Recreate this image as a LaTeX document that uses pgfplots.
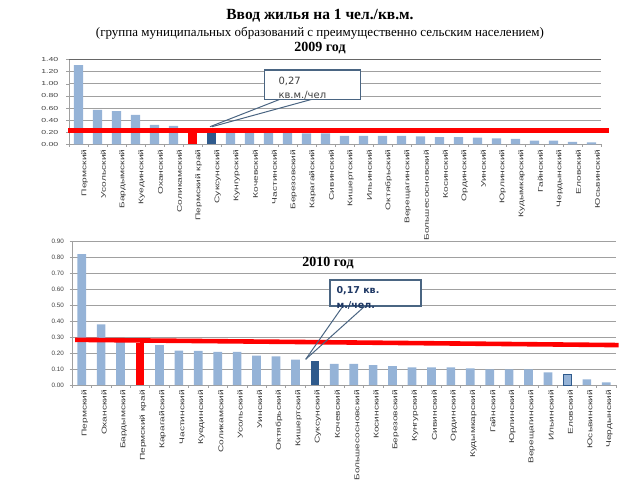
\documentclass[border=0pt]{standalone}
\usepackage{pgfplots}
\pgfplotsset{compat=1.18}
\usepackage{fontspec}
\setmainfont{Liberation Serif}
\setsansfont{Liberation Sans}
\newfontfamily\dvs{DejaVu Sans}
\definecolor{barblue}{HTML}{95B3D7}
\definecolor{darkbar}{HTML}{2F5A8C}
\definecolor{gridg}{HTML}{A0A0A0}
\definecolor{boxc}{HTML}{4A6582}
\definecolor{navy}{HTML}{1F3864}
\begin{document}
\begin{tikzpicture}[x=1pt,y=1pt]
\path[use as bounding box] (0,0) rectangle (640,480);
% titles
\node[font=\rmfamily\bfseries\fontsize{15.5}{17}\selectfont] at (320,464.5) {Ввод жилья на 1 чел./кв.м.};
\node[font=\rmfamily\fontsize{13}{15}\selectfont] at (320,447) {(группа муниципальных образований с преимущественно сельским населением)};
\node[font=\rmfamily\bfseries\fontsize{14}{16}\selectfont] at (320,431.5) {2009 год};

% ---------- 2009 ----------
\begin{axis}[at={(69pt,335.7pt)}, anchor=south west, scale only axis,
  width=532pt, height=84.6pt,
  xmin=-0.5, xmax=27.5, ymin=0, ymax=1.4,
  clip=false,
  axis x line*=bottom, axis y line*=left,
  axis line style={gridg, line width=0.8pt},
  ytick={0,0.2,...,1.41},
  ymajorgrids, grid style={gridg, line width=0.8pt},
  yticklabel style={font=\sffamily\fontsize{5.8}{6}\selectfont, text=black!75, xscale=1.5, xshift=-2pt},
  /pgf/number format/.cd, fixed, fixed zerofill, precision=2, assume math mode=true, /pgfplots/.cd,
  tick align=outside, major tick length=2.5pt,
  tick style={gridg, line width=0.6pt},
  xtick={-0.5,0.5,...,27.6}, xticklabels={},
  extra x ticks={0,...,27},
  extra x tick style={major tick length=0pt, grid=none},
  extra x tick labels={Пермский,Усольский,Бардымский,Куединский,Оханский,Соликамский,Пермский край,Суксунский,Кунгурский,Кочевский,Частинский,Березовский,Карагайский,Сивинский,Кишертский,Ильинский,Октябрьский,Верещагинский,Большесосновский,Косинский,Ординский,Уинский,Юрлинский,Кудымкарский,Гайнский,Чердынский,Еловский,Юсьвинский},
  extra x tick style={xticklabel style={rotate=90, xscale=1.5, anchor=east, font=\sffamily\fontsize{6.8}{7}\selectfont, text=black!78, yshift=-6pt}},
]
\draw[black!60, line width=0.8pt] (axis cs:-0.5,1.4) -- (axis cs:27.5,1.4);
\addplot[ybar, bar width=9.3pt, bar shift=0pt, fill=barblue, draw=none] coordinates {
(0,1.31) (1,0.57) (2,0.55) (3,0.485) (4,0.32) (5,0.305)
(8,0.19) (9,0.19) (10,0.19) (11,0.19) (12,0.18) (13,0.18) (14,0.14) (15,0.14)
(16,0.14) (17,0.14) (18,0.13) (19,0.12) (20,0.12) (21,0.11) (22,0.10) (23,0.09)
(24,0.06) (25,0.06) (26,0.04) (27,0.03)};
\addplot[ybar, bar width=9.3pt, bar shift=0pt, fill=red, draw=none] coordinates {(6,0.24)};
\addplot[ybar, bar width=9.3pt, bar shift=0pt, fill=darkbar, draw=none] coordinates {(7,0.19)};
\addplot[red, line width=4.4pt, no marks] coordinates {(-0.55,0.228) (27.93,0.228)};
\end{axis}
% callout 2009
\draw[boxc, line width=1pt] (210,353.3) -- (280,380.7);
\draw[boxc, line width=1pt] (212,353.3) -- (312,380.7);
\draw[boxc, line width=1.2pt, fill=white] (264.3,380.7) rectangle (360.7,410);
\node[anchor=west, font=\dvs\fontsize{10}{11}\selectfont, text=black!75] at (275,398.5) {0,27};
\node[anchor=west, font=\dvs\fontsize{10}{11}\selectfont, text=black!75] at (275,384.5) {кв.м./чел};

% ---------- 2010 ----------
\begin{axis}[at={(72pt,95pt)}, anchor=south west, scale only axis,
  width=544pt, height=143.7pt,
  xmin=-0.5, xmax=27.5, ymin=0, ymax=0.9,
  clip=false,
  axis x line*=bottom, axis y line*=left,
  axis line style={gridg, line width=0.8pt},
  ytick={0,0.1,...,0.91},
  ymajorgrids, grid style={gridg, line width=0.9pt},
  yticklabel style={font=\sffamily\fontsize{6.3}{7}\selectfont, text=black!75, xshift=-2pt},
  /pgf/number format/.cd, fixed, fixed zerofill, precision=2, assume math mode=true, /pgfplots/.cd,
  tick align=outside, major tick length=2.5pt,
  tick style={gridg, line width=0.6pt},
  xtick={-0.5,0.5,...,27.6}, xticklabels={},
  extra x ticks={0,...,27},
  extra x tick style={major tick length=0pt, grid=none},
  extra x tick labels={Пермский,Оханский,Бардымский,Пермский край,Карагайский,Частинский,Куединский,Соликамский,Усольский,Уинский,Октябрьский,Кишертский,Суксунский,Кочевский,Большесосновский,Косинский,Березовский,Кунгурский,Сивинский,Ординский,Кудымкарский,Гайнский,Юрлинский,Верещагинский,Ильинский,Еловский,Юсьвинский,Чердынский},
  extra x tick style={xticklabel style={rotate=90, xscale=1.45, anchor=east, font=\sffamily\fontsize{7}{8}\selectfont, text=black!78, yshift=-3pt}},
]
\addplot[ybar, bar width=8.7pt, bar shift=0pt, fill=barblue, draw=none] coordinates {
(0,0.82) (1,0.38) (2,0.29) (4,0.25) (5,0.215) (6,0.213) (7,0.207) (8,0.207)
(9,0.184) (10,0.18) (11,0.159) (13,0.132) (14,0.132) (15,0.125) (16,0.119)
(17,0.111) (18,0.111) (19,0.111) (20,0.104) (21,0.098) (22,0.098) (23,0.098)
(24,0.079) (26,0.035) (27,0.017)};
\addplot[ybar, bar width=8.7pt, bar shift=0pt, fill=barblue, draw=darkbar, line width=0.8pt] coordinates {(25,0.069)};
\addplot[ybar, bar width=8.7pt, bar shift=0pt, fill=red, draw=none] coordinates {(3,0.261)};
\addplot[ybar, bar width=8.7pt, bar shift=0pt, fill=darkbar, draw=none] coordinates {(12,0.148)};
\addplot[red, line width=4.6pt, no marks] coordinates {(-0.34,0.283) (27.64,0.25)};
\end{axis}
\node[font=\rmfamily\bfseries\fontsize{14}{16}\selectfont] at (328,217) {2010 год};
% callout 2010
\draw[boxc, line width=1pt] (305.7,120.7) -- (343,174);
\draw[boxc, line width=1pt] (305.7,120.7) -- (365,174);
\draw[boxc, line width=1.2pt, fill=white] (330,174) rectangle (421,200);
\node[anchor=west, font=\dvs\bfseries\fontsize{9.5}{11}\selectfont, text=navy] at (333,189) {0,17 кв.};
\node[anchor=west, font=\dvs\bfseries\fontsize{9.5}{11}\selectfont, text=navy] at (333,174.5) {м./чел.};
\end{tikzpicture}
\end{document}
